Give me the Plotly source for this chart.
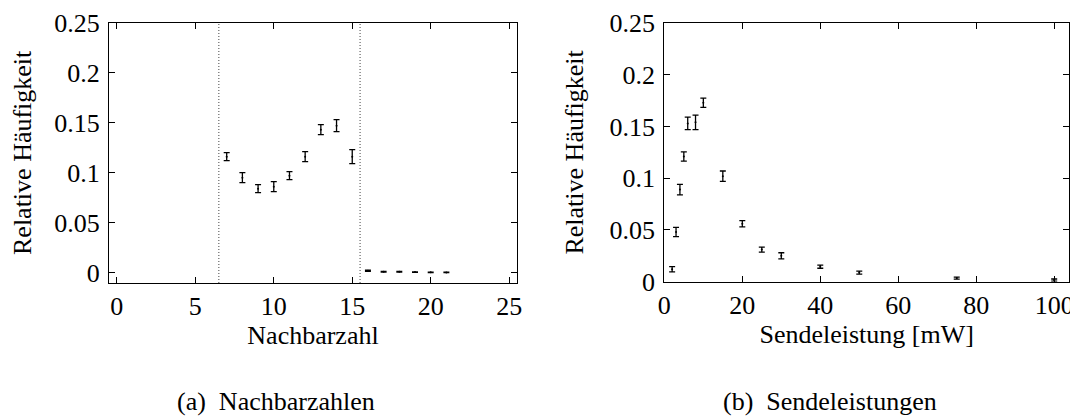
import plotly.graph_objects as go
from plotly.subplots import make_subplots

# (a) Nachbarzahlen
NACHBAR_X = [7, 8, 9, 10, 11, 12, 13, 14, 15, 16, 17, 18, 19, 20, 21]
NACHBAR_Y = [0.116, 0.095, 0.084, 0.086, 0.097, 0.116, 0.143, 0.147, 0.116,
             0.002, 0.001, 0.001, 0.0006, 0.0004, 0.0003]
NACHBAR_ERR = [0.004, 0.005, 0.004, 0.005, 0.004, 0.005, 0.005, 0.006, 0.007,
               0.0006, 0.0004, 0.0004, 0.0003, 0.0002, 0.0002]
NACHBAR_BOUNDS = [6.5, 15.5]

# (b) Sendeleistungen
SENDE_X = [2, 3, 4, 5, 6, 8, 10, 15, 20, 25, 30, 40, 50, 75, 100]
SENDE_Y = [0.012, 0.048, 0.089, 0.121, 0.153, 0.154, 0.173, 0.102, 0.056,
           0.031, 0.025, 0.0145, 0.0088, 0.0035, 0.0016]
SENDE_ERR = [0.0025, 0.0045, 0.005, 0.0045, 0.006, 0.007, 0.0045, 0.005, 0.003,
             0.0025, 0.003, 0.0015, 0.0015, 0.001, 0.001]

Y_TICKS = [0, 0.05, 0.1, 0.15, 0.2, 0.25]
Y_LABELS = ['0', '0.05', '0.1', '0.15', '0.2', '0.25']

FONT = 'Liberation Serif'
BLACK = 'black'
FS = 26
TITLE_FONT = dict(family=FONT, size=FS, color=BLACK)

# page body has an 8px margin, so the figure is drawn 8px smaller
W, H = 1070, 409

fig = make_subplots(rows=1, cols=2)


def err_trace(x, y, err):
    return go.Scatter(
        x=x, y=y, mode='markers',
        marker=dict(size=2, color=BLACK),
        error_y=dict(type='data', array=err, visible=True,
                     color=BLACK, thickness=1.3, width=3),
        showlegend=False)


fig.add_trace(err_trace(NACHBAR_X, NACHBAR_Y, NACHBAR_ERR), row=1, col=1)
fig.add_trace(err_trace(SENDE_X, SENDE_Y, SENDE_ERR), row=1, col=2)

for b in NACHBAR_BOUNDS:
    fig.add_shape(type='line', xref='x', yref='y domain', x0=b, x1=b, y0=0, y1=1,
                  line=dict(color='#444', width=1, dash='1px,2px'))

axis_common = dict(showline=True, linecolor=BLACK, linewidth=1.2, mirror='ticks',
                   ticks='inside', ticklen=6, tickcolor=BLACK, tickwidth=1,
                   showgrid=False, zeroline=False, automargin=False,
                   tickfont=dict(family=FONT, size=FS, color=BLACK))

fig.update_xaxes(axis_common, ticklabelstandoff=0)
fig.update_yaxes(axis_common, ticklabelstandoff=3)

fig.update_layout(
    xaxis=dict(domain=[0.0944, 0.4757], range=[-0.5, 25.5], tickvals=[0, 5, 10, 15, 20, 25],
               title=dict(text='Nachbarzahl', standoff=2, font=TITLE_FONT)),
    xaxis2=dict(domain=[0.6134, 0.9916], range=[0, 103.8], tickvals=[0, 20, 40, 60, 80, 100],
                title=dict(text='Sendeleistung [mW]', standoff=2, font=TITLE_FONT)),
    yaxis=dict(domain=[0.3276, 0.9641], range=[-0.0103, 0.25], tickvals=Y_TICKS,
               ticktext=Y_LABELS,
               title=dict(text='Relative Häufigkeit', standoff=18, font=TITLE_FONT)),
    yaxis2=dict(domain=[0.3308, 0.9633], range=[0, 0.25], tickvals=Y_TICKS,
                ticktext=Y_LABELS,
                title=dict(text='Relative Häufigkeit', standoff=18, font=TITLE_FONT)),
    width=W, height=H,
    margin=dict(l=0, r=0, t=0, b=0, autoexpand=False),
    paper_bgcolor='white', plot_bgcolor='white',
    font=dict(family=FONT, size=FS, color=BLACK),
    annotations=[
        dict(text='(a)  Nachbarzahlen', x=0.2505, y=0.037, xref='paper', yref='paper',
             xanchor='center', yanchor='middle', showarrow=False, font=TITLE_FONT),
        dict(text='(b)  Sendeleistungen', x=0.768, y=0.037, xref='paper', yref='paper',
             xanchor='center', yanchor='middle', showarrow=False, font=TITLE_FONT),
    ],
)

fig.write_html('out.html')
